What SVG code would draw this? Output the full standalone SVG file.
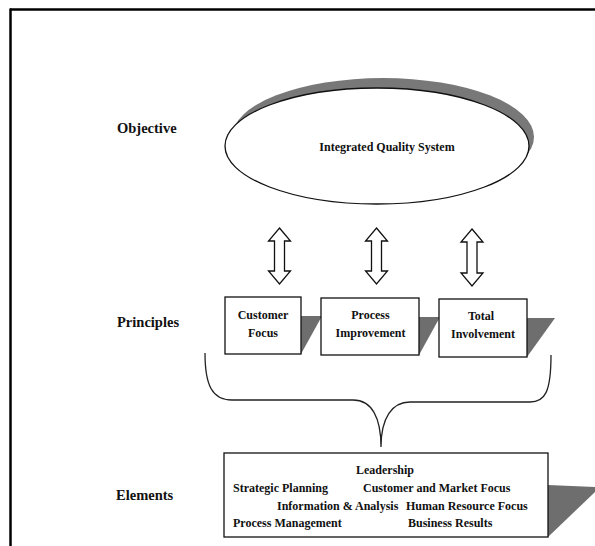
<svg xmlns="http://www.w3.org/2000/svg" width="595" height="546" viewBox="0 0 595 546">
<style>
.t{font-family:"Liberation Serif","Times New Roman",serif;font-weight:bold;fill:#111;}
.lbl{font-size:14.5px;}
.s{font-size:12px;}
.m{text-anchor:middle;}
.box{fill:#fff;stroke:#111;stroke-width:1.3;}
.sh{fill:#6e6e6e;}
.arr{fill:#fff;stroke:#111;stroke-width:1.3;stroke-linejoin:miter;}
.frame{stroke:#000;stroke-width:2.5;fill:none;}
</style>
<rect width="595" height="546" fill="#fff"/>
<g id="frame">
<line class="frame" x1="10" y1="9.5" x2="595" y2="9.5"/>
<line class="frame" x1="10.5" y1="8.5" x2="10.5" y2="546"/>
</g>
<g id="labels">
<text class="t lbl" x="117" y="133">Objective</text>
<text class="t lbl" x="117" y="327">Principles</text>
<text class="t lbl" x="116" y="500">Elements</text>
</g>
<g id="objective">
<ellipse cx="383" cy="137" rx="151" ry="59" fill="#787878"/>
<ellipse cx="377" cy="146" rx="152" ry="58" fill="#fff" stroke="#111" stroke-width="1.3"/>
<text class="t s m" x="387" y="151">Integrated Quality System</text>
</g>
<g id="connectors">
<path class="arr" d="M279.5,228 L290.5,241 L284.5,241 L284.5,271 L290.5,271 L279.5,284 L268.5,271 L274.5,271 L274.5,241 L268.5,241 Z"/>
<path class="arr" d="M376.5,228 L387.5,241 L381.5,241 L381.5,271 L387.5,271 L376.5,284 L365.5,271 L371.5,271 L371.5,241 L365.5,241 Z"/>
<path class="arr" d="M472,229 L483,242 L477,242 L477,273 L483,273 L472,286 L461,273 L467,273 L467,242 L461,242 Z"/>
<path d="M205,353 C205,385 212,400 232,400 L353,400 C372,400 381,418 381,447 C381,418 392,402 410,402 L530,402 C545,402 551,392 551,355" fill="none" stroke="#222" stroke-width="1.3"/>
</g>
<g id="customer-focus">
<polygon class="sh" points="301,316 322,316 301,354"/>
<rect class="box" x="225" y="297" width="76" height="57"/>
<text class="t s m" x="263" y="319">Customer</text>
<text class="t s m" x="263" y="337">Focus</text>
</g>
<g id="process-improvement">
<polygon class="sh" points="419,317 440,317 419,355"/>
<rect class="box" x="321" y="298" width="98" height="57"/>
<text class="t s m" x="370.5" y="319">Process</text>
<text class="t s m" x="370.5" y="337">Improvement</text>
</g>
<g id="total-involvement">
<polygon class="sh" points="527,318 555,318 527,357"/>
<rect class="box" x="439" y="299" width="88" height="58"/>
<text class="t s m" x="481" y="320">Total</text>
<text class="t s m" x="483" y="338">Involvement</text>
</g>
<g id="elements">
<polygon class="sh" points="548,485 595,487 595,492 548,537"/>
<rect class="box" x="224" y="453" width="324" height="84"/>
<text class="t s m" x="385" y="474">Leadership</text>
<text class="t s" x="233" y="492">Strategic Planning</text>
<text class="t s" x="363" y="492">Customer and Market Focus</text>
<text class="t s" x="277" y="510">Information &amp; Analysis</text>
<text class="t s" x="406" y="510">Human Resource Focus</text>
<text class="t s" x="233" y="527">Process Management</text>
<text class="t s" x="408" y="527">Business Results</text>
</g>
</svg>
